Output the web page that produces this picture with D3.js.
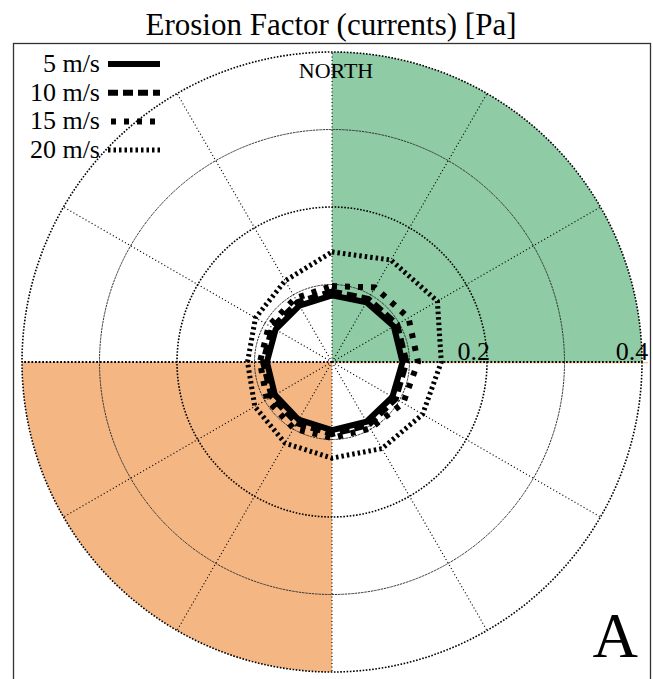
<!DOCTYPE html>
<html>
<head>
<meta charset="utf-8">
<script src="https://cdn.jsdelivr.net/npm/d3@7"></script>
<style>
  html, body { margin: 0; padding: 0; background: #fff; }
  svg { display: block; }
</style>
</head>
<body>
<svg id="chart" width="653" height="679"></svg>
<script>
// Compass directions (degrees, clockwise from north)
const directions = [0, 30, 60, 90, 120, 150, 180, 210, 240, 270, 300, 330];

// Erosion factor [Pa] per direction for each current speed
const speedLabels = ["5 m/s", "10 m/s", "15 m/s", "20 m/s"];
const ef5  = [0.086, 0.089, 0.092, 0.091, 0.090, 0.089, 0.088, 0.086, 0.085, 0.084, 0.084, 0.084];
const ef10 = [0.091, 0.094, 0.097, 0.096, 0.095, 0.094, 0.093, 0.091, 0.090, 0.089, 0.089, 0.089];
const ef15 = [0.098, 0.111, 0.114, 0.111, 0.106, 0.099, 0.098, 0.099, 0.097, 0.093, 0.094, 0.095];
const ef20 = [0.142, 0.152, 0.157, 0.141, 0.135, 0.129, 0.124, 0.121, 0.115, 0.109, 0.114, 0.121];

// Radial grid
const ringValues = [0.1, 0.2, 0.3, 0.4];
const ringLabelValues = [0.2, 0.4];
const ringLabelText = ["0.2", "0.4"];
const rMax = 0.4;

// Highlighted sectors (degrees)
const sectorStart = [0, 180];
const sectorEnd = [90, 270];
const sectorColor = ["#8fcba5", "#f4b784"];

const svg = d3.select("#chart");
const W = 653, H = 679;
const cx = 332, cy = 362, R = 310;
const serif = "'Liberation Serif', 'Times New Roman', serif";

const r = d3.scaleLinear().domain([0, rMax]).range([0, R]);
const toRad = d => d * Math.PI / 180;

// Title
svg.append("text")
  .attr("x", 331).attr("y", 35)
  .attr("text-anchor", "middle")
  .style("font-family", serif).style("font-size", "31px")
  .text("Erosion Factor (currents) [Pa]");

// Frame
svg.append("rect")
  .attr("x", 13.5).attr("y", 43.5)
  .attr("width", 637).attr("height", 720)
  .attr("fill", "none").attr("stroke", "#333").attr("stroke-width", 1.3);

const g = svg.append("g").attr("transform", `translate(${cx},${cy})`);

// Shaded quadrants
const arc = d3.arc().innerRadius(0).outerRadius(r(rMax));
sectorStart.forEach((s, i) => {
  g.append("path")
    .attr("d", arc({ startAngle: toRad(s), endAngle: toRad(sectorEnd[i]) }))
    .attr("fill", sectorColor[i]);
});
// thin edge of the orange sector running east along the axis
g.append("line")
  .attr("x1", 0).attr("y1", 0.8).attr("x2", r(rMax) + 6).attr("y2", 0.8)
  .attr("stroke", sectorColor[1]).attr("stroke-width", 1);

// Rings
ringValues.forEach((v, i) => {
  const major = i % 2 === 1;
  g.append("circle")
    .attr("r", r(v))
    .attr("fill", "none")
    .attr("stroke", major ? "#000" : "#333")
    .attr("stroke-width", major ? 1.6 : 1)
    .attr("stroke-dasharray", major ? "1.6,1.6" : "2.5,0.8");
});

// Spokes
directions.forEach(d => {
  const [x, y] = d3.pointRadial(toRad(d), r(rMax));
  const ew = d === 90 || d === 270;
  g.append("line")
    .attr("x1", 0).attr("y1", 0).attr("x2", x).attr("y2", y)
    .attr("stroke", "#000")
    .attr("stroke-width", ew ? 1.8 : 1.1)
    .attr("stroke-dasharray", ew ? "1.8,1.8" : "1.1,2.4");
});

// Series lines
const series = [ef5, ef10, ef15, ef20];
const dashes = [null, "10,5", "5,8", "2.5,3"];
const widths = [6, 6, 6, 5];
const radial = d3.lineRadial()
  .angle((d, i) => toRad(directions[i]))
  .radius(d => r(d))
  .curve(d3.curveLinearClosed);

series.slice().reverse().forEach((vals, k) => {
  const i = series.length - 1 - k;
  g.append("path")
    .attr("d", radial(vals))
    .attr("fill", "none")
    .attr("stroke", "#000")
    .attr("stroke-width", widths[i])
    .attr("stroke-linejoin", "miter")
    .attr("stroke-dasharray", dashes[i]);
});

// Ring labels
ringLabelValues.forEach((v, i) => {
  g.append("text")
    .attr("x", r(v) * 1.02).attr("y", -2)
    .attr("text-anchor", "end")
    .style("font-family", serif).style("font-size", "26px")
    .text(ringLabelText[i]);
});

// North label
g.append("text")
  .attr("x", 4).attr("y", -r(rMax) + 26)
  .attr("text-anchor", "middle")
  .style("font-family", serif).style("font-size", "22px")
  .text("NORTH");

// Legend
const legend = svg.append("g");
speedLabels.forEach((lab, i) => {
  const base = 72 + i * 28.7;
  legend.append("text")
    .attr("x", 100).attr("y", base)
    .attr("text-anchor", "end")
    .style("font-family", serif).style("font-size", "26px")
    .text(lab);
  legend.append("line")
    .attr("x1", i === 2 ? 111 : 108).attr("x2", 160)
    .attr("y1", base - 8).attr("y2", base - 8)
    .attr("stroke", "#000")
    .attr("stroke-width", widths[i])
    .attr("stroke-dasharray", dashes[i]);
});

// Panel letter
svg.append("text")
  .attr("x", 638).attr("y", 657)
  .attr("text-anchor", "end")
  .style("font-family", serif).style("font-size", "63px")
  .text("A");
</script>
</body>
</html>
